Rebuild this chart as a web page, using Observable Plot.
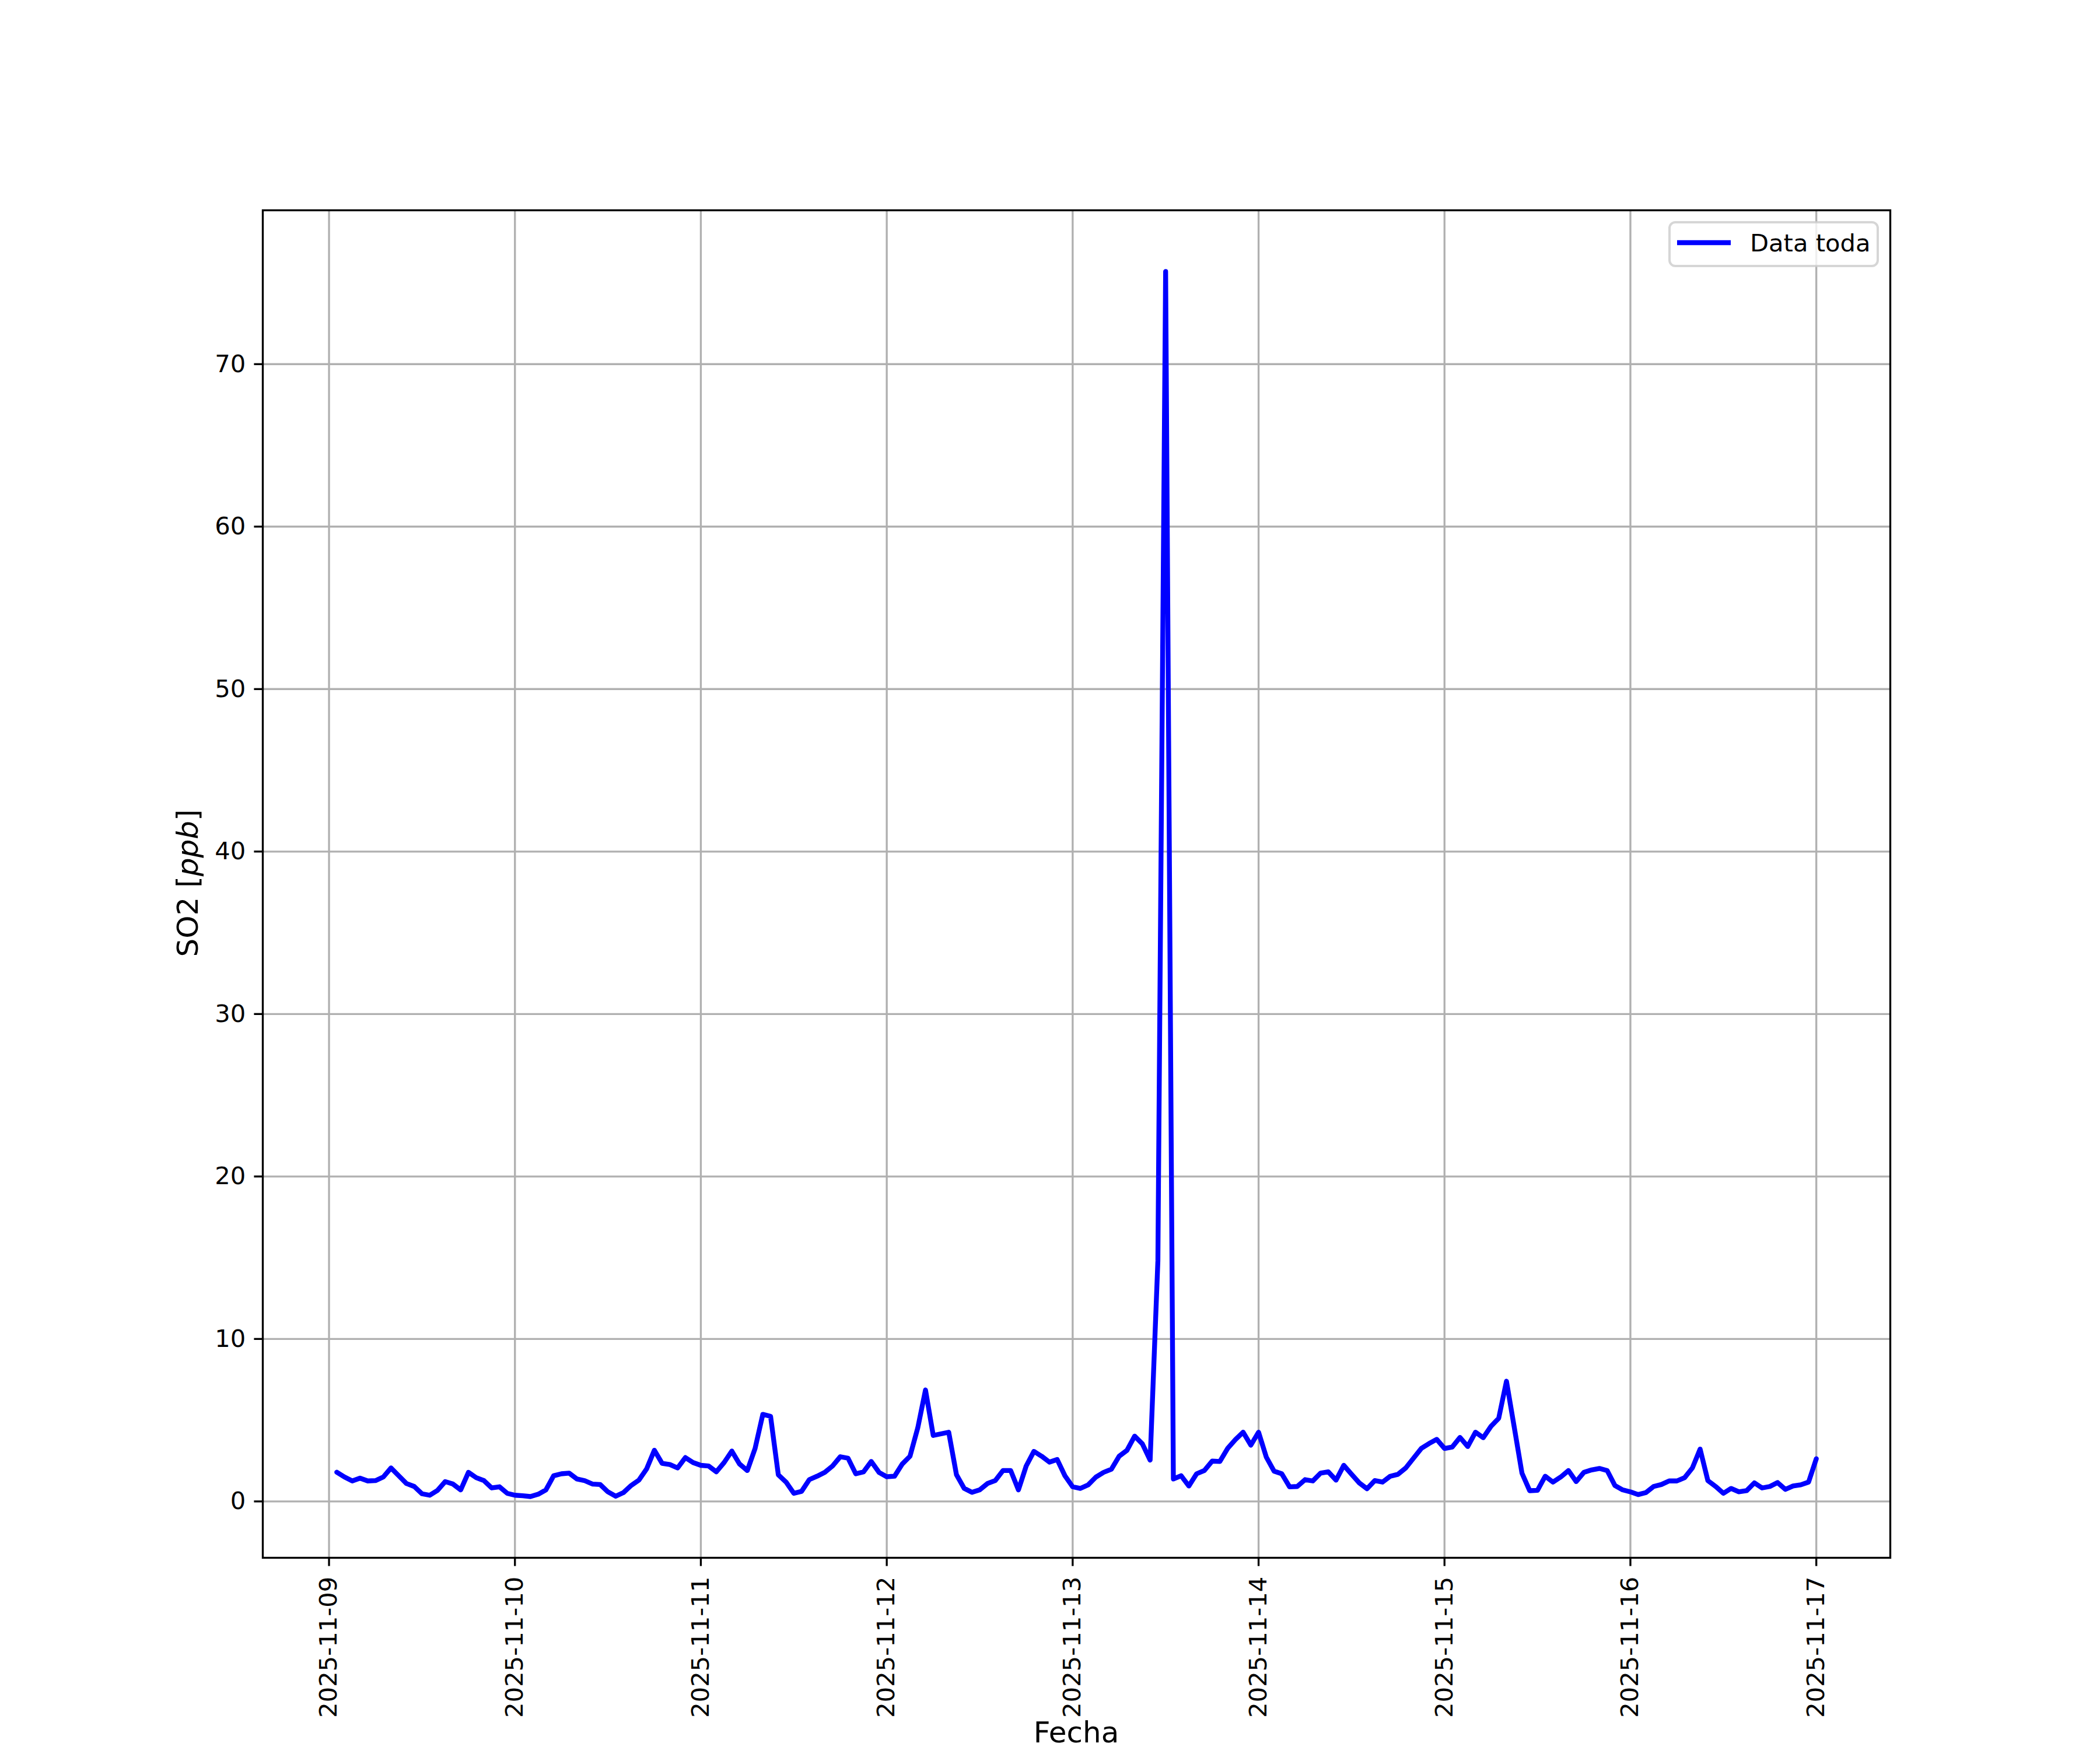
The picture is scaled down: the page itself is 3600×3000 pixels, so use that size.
<!DOCTYPE html>
<html>
<head>
<meta charset="utf-8">
<script src="https://cdn.jsdelivr.net/npm/d3@7"></script>
<script src="https://cdn.jsdelivr.net/npm/@observablehq/plot@0.6"></script>
<style>
  html, body { margin: 0; padding: 0; background: #ffffff; }
  #chart svg { display: block; }
</style>
</head>
<body>
<div id="chart"></div>
<script>
// ---- data (hourly SO2 readings, ppb) ----
const startTime = "2025-11-09T01:00:00Z";
const stepHours = 1;
const so2Day1 = [1.8,1.5,1.26,1.43,1.26,1.28,1.5,2.06,1.58,1.1,0.92,0.47,0.38,0.68,1.22,1.07,0.71,1.79,1.46,1.28,0.83,0.9,0.5,0.38];
const so2Day2 = [0.35,0.3,0.44,0.71,1.58,1.7,1.74,1.38,1.28,1.07,1.04,0.59,0.32,0.54,0.98,1.31,2.0,3.15,2.34,2.27,2.06,2.7,2.39,2.22];
const so2Day3 = [2.18,1.82,2.39,3.1,2.3,1.9,3.26,5.36,5.24,1.64,1.19,0.5,0.62,1.34,1.55,1.79,2.18,2.75,2.66,1.7,1.82,2.46,1.79,1.52];
const so2Day4 = [1.55,2.3,2.78,4.52,6.86,4.06,4.16,4.26,1.64,0.8,0.56,0.71,1.1,1.28,1.9,1.9,0.71,2.18,3.08,2.78,2.42,2.58,1.58,0.9];
const so2Day5 = [0.8,1.02,1.5,1.79,1.98,2.78,3.14,4.02,3.54,2.54,14.8,75.7,1.38,1.58,0.95,1.7,1.9,2.48,2.46,3.26,3.8,4.26,3.46,4.26];
const so2Day6 = [2.72,1.86,1.7,0.9,0.92,1.34,1.26,1.74,1.82,1.31,2.22,1.67,1.14,0.78,1.28,1.19,1.55,1.67,2.06,2.66,3.26,3.56,3.82,3.26];
const so2Day7 = [3.35,3.94,3.38,4.26,3.92,4.62,5.12,7.4,4.58,1.74,0.66,0.68,1.55,1.19,1.5,1.9,1.22,1.79,1.94,2.03,1.9,0.98,0.71,0.59];
const so2Day8 = [0.42,0.54,0.92,1.04,1.26,1.26,1.46,2.06,3.22,1.28,0.92,0.5,0.8,0.59,0.66,1.14,0.83,0.92,1.16,0.74,0.95,1.02,1.19,2.63];
const yTicks = [0, 10, 20, 30, 40, 50, 60, 70];
const xTickLabels = ["2025-11-09","2025-11-10","2025-11-11","2025-11-12","2025-11-13","2025-11-14","2025-11-15","2025-11-16","2025-11-17"];
const seriesName = "Data toda";
const xLabel = "Fecha";
const yLabelParts = ["SO2 [", "ppb", "]"];

// ---- build table ----
const so2Values = [].concat(so2Day1, so2Day2, so2Day3, so2Day4, so2Day5, so2Day6, so2Day7, so2Day8);
const t0 = new Date(startTime);
const table = so2Values.map((v, i) => ({ t: d3.utcHour.offset(t0, i * stepHours), v }));
const xTicks = xTickLabels.map(s => new Date(s + "T00:00:00Z"));
const tExt = d3.extent(table, d => +d.t);
const tPad = (tExt[1] - tExt[0]) * 0.05;
const vExt = d3.extent(table, d => d.v);
const vPad = (vExt[1] - vExt[0]) * 0.05;

const FS = 41.67;      // 10pt @ 300dpi
const LW = 3.33;       // 0.8pt
const TICK = 14.6;     // 3.5pt

const W = 3600, H = 3000;
const mL = 450, mR = 360, mT = 360, mB = 330;

const chart = Plot.plot({
  width: W,
  height: H,
  marginLeft: mL,
  marginRight: mR,
  marginTop: mT,
  marginBottom: mB,
  style: { fontFamily: "DejaVu Sans", fontSize: FS + "px", background: "#ffffff", color: "#000000" },
  x: { type: "utc", domain: [new Date(tExt[0] - tPad), new Date(tExt[1] + tPad)] },
  y: { domain: [vExt[0] - vPad, vExt[1] + vPad] },
  marks: [
    Plot.gridX(xTicks, { stroke: "#b0b0b0", strokeOpacity: 1, strokeWidth: LW }),
    Plot.gridY(yTicks, { stroke: "#b0b0b0", strokeOpacity: 1, strokeWidth: LW }),
    Plot.lineY(table, { x: "t", y: "v", stroke: "#0000ff", strokeWidth: 8.33, strokeLinejoin: "round", strokeLinecap: "round" }),
    Plot.frame({ stroke: "#000000", strokeWidth: LW }),
    Plot.axisY(yTicks, {
      tickSize: TICK, tickPadding: TICK, strokeWidth: LW, fontSize: FS,
      label: null, tickFormat: d => String(d), fill: "#000000"
    }),
    Plot.axisX(xTicks, {
      tickSize: TICK, tickPadding: TICK + 3, strokeWidth: LW, fontSize: FS,
      tickRotate: -90, label: null, tickFormat: d3.utcFormat("%Y-%m-%d"), fill: "#000000"
    })
  ]
});

document.getElementById("chart").appendChild(chart);

// ---- axis titles and legend ----
const svg = d3.select(chart);
svg.append("text")
  .attr("x", 1845).attr("y", 2987)
  .attr("text-anchor", "middle")
  .attr("font-family", "DejaVu Sans")
  .attr("font-size", 50)
  .attr("fill", "#000")
  .text(xLabel);

const yl = svg.append("text")
  .attr("transform", "translate(339,1514) rotate(-90)")
  .attr("text-anchor", "middle")
  .attr("font-family", "DejaVu Sans")
  .attr("font-size", 50)
  .attr("fill", "#000");
yl.append("tspan").text(yLabelParts[0]);
yl.append("tspan").attr("font-style", "italic").text(yLabelParts[1]);
yl.append("tspan").text(yLabelParts[2]);

const lg = svg.append("g");
lg.append("rect")
  .attr("x", 2862).attr("y", 381).attr("width", 357).attr("height", 75)
  .attr("rx", 10).attr("ry", 10)
  .attr("fill", "#ffffff").attr("fill-opacity", 0.8)
  .attr("stroke", "#cccccc").attr("stroke-opacity", 0.8).attr("stroke-width", 4);
lg.append("line")
  .attr("x1", 2875).attr("x2", 2967).attr("y1", 416).attr("y2", 416)
  .attr("stroke", "#0000ff").attr("stroke-width", 8.33).attr("stroke-linecap", "butt");
lg.append("text")
  .attr("x", 3000).attr("y", 431)
  .attr("text-anchor", "start")
  .attr("font-family", "DejaVu Sans")
  .attr("font-size", FS)
  .attr("fill", "#000")
  .text(seriesName);
</script>
</body>
</html>
